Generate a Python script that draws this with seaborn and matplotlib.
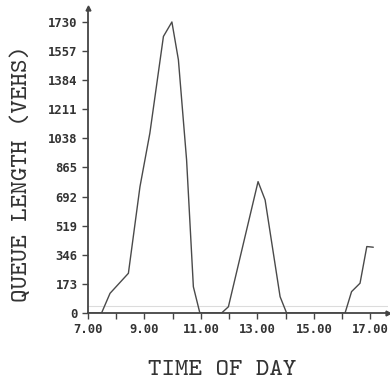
import matplotlib
matplotlib.use("Agg")
import matplotlib.pyplot as plt
import seaborn as sns
import pandas as pd

# ---- data ----
time_of_day = [7.00, 7.48, 7.78, 8.43, 8.84, 9.19, 9.67, 9.97, 10.20, 10.49, 10.73, 10.96,
               11.73, 11.97, 13.02, 13.27, 13.80, 14.03, 16.10, 16.33, 16.63, 16.87, 17.10]
queue_len = [0, 0, 117, 236, 751, 1069, 1644, 1730, 1505, 910, 156, 0,
             0, 37, 781, 672, 97, 0, 0, 127, 177, 395, 391]
y_ticks = [0, 173, 346, 519, 692, 865, 1038, 1211, 1384, 1557, 1730]
x_ticks = [7, 8, 9, 10, 11, 12, 13, 14, 15, 16, 17]
x_tick_labels = ["7.00", "", "9.00", "", "11.00", "", "13.00", "", "15.00", "", "17.00"]
x_label = "TIME OF DAY"
y_label = "QUEUE LENGTH (VEHS)"

df = pd.DataFrame({"t": time_of_day, "q": queue_len})

sns.set_theme(style="white")
plt.rcParams["font.family"] = ["DejaVu Sans"]
plt.rcParams["axes.unicode_minus"] = False

fig = plt.figure(figsize=(3.9, 3.83), dpi=100)
ax = fig.add_axes([88 / 390, 70 / 383, 300 / 390, 305 / 383])

sns.lineplot(data=df, x="t", y="q", ax=ax, color="#4a4a4a", linewidth=1.0,
             estimator=None, sort=True)

# faint scan line just above baseline
ax.axhline(40, color="#dcdcdc", linewidth=0.8, zorder=0)

ax.set_xlim(7.0, 17.62)
ax.set_ylim(0, 1813)

ax.set_xticks(x_ticks)
ax.set_xticklabels(x_tick_labels)
ax.set_yticks(y_ticks)
ax.set_yticklabels([str(v) for v in y_ticks])

for lab in ax.get_xticklabels() + ax.get_yticklabels():
    lab.set_fontfamily("DejaVu Sans Mono")
    lab.set_fontweight("bold")
    lab.set_fontsize(8.8)
    lab.set_color("#333333")

ax.tick_params(axis="both", direction="out", length=4, width=1.0, color="#444444",
               bottom=True, left=True)
ax.tick_params(axis="y", pad=3.5)
ax.tick_params(axis="x", pad=3.0)

for side in ["top", "right"]:
    ax.spines[side].set_visible(False)
for side in ["left", "bottom"]:
    ax.spines[side].set_color("#444444")
    ax.spines[side].set_linewidth(1.3)

# small arrow heads at axis ends
ax.plot(0, 1, marker="^", markersize=3.5, color="#444444", transform=ax.transAxes, clip_on=False)
ax.plot(1, 0, marker=">", markersize=3.5, color="#444444", transform=ax.transAxes, clip_on=False)

ax.set_xlabel("")
ax.set_ylabel("")
fig.text(222 / 390, 1 - 375 / 383, x_label, ha="center", va="baseline",
         fontfamily=["cmtt10", "DejaVu Serif"], fontsize=18.5, color="#333333")
fig.text(23 / 390, 1 - 174 / 383, y_label, ha="center", va="center", rotation=90,
         fontfamily=["cmtt10", "DejaVu Serif"], fontsize=18.5, color="#333333")

fig.savefig("out.png", dpi=100)
